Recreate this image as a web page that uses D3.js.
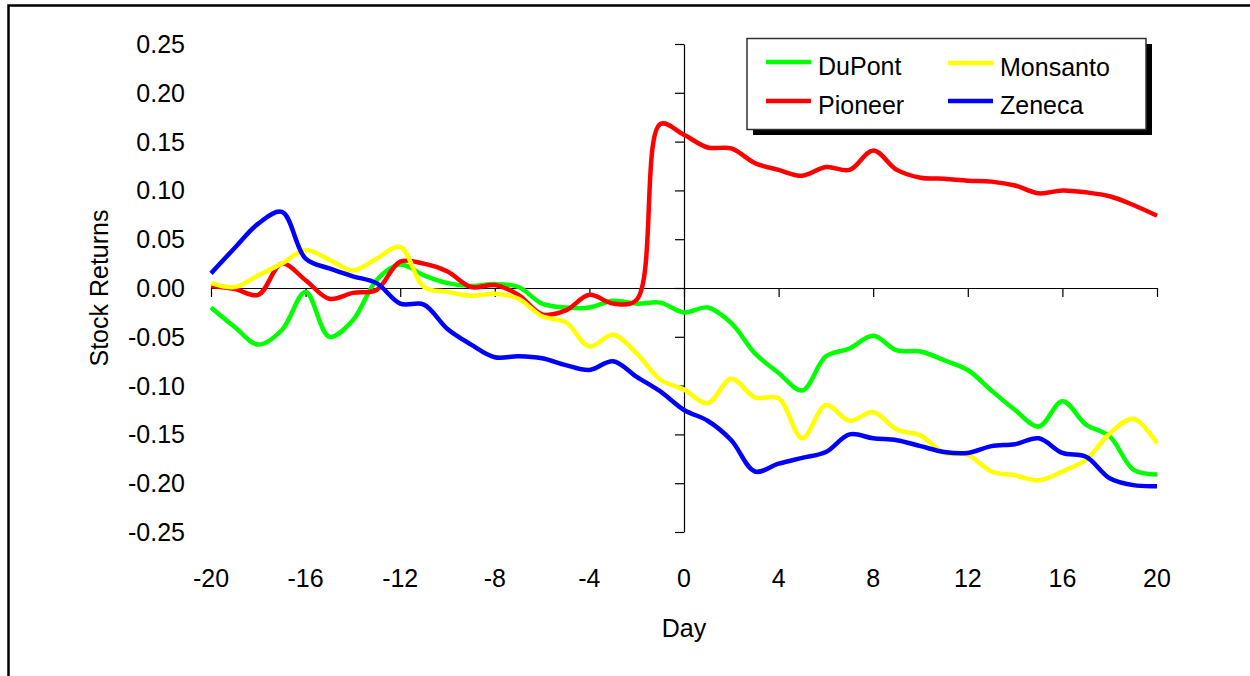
<!DOCTYPE html>
<html>
<head>
<meta charset="utf-8">
<script src="https://cdn.jsdelivr.net/npm/d3@7"></script>
<style>
  body { margin: 0; background: #fff; }
  text { font-family: "Liberation Sans", Arial, sans-serif; fill: #000; }
</style>
</head>
<body>
<div id="chart"></div>
<script>
// days -20 .. 20
const days = d3.range(-20, 21);

const dupont = [-0.020, -0.040, -0.058, -0.043, -0.004, -0.050, -0.033, 0.008, 0.024, 0.013,
  0.005, 0.002, 0.004, 0.001, -0.016, -0.020, -0.020, -0.013, -0.016, -0.015,
  -0.025, -0.020, -0.036, -0.067, -0.087, -0.105, -0.070, -0.062, -0.049, -0.064,
  -0.065, -0.074, -0.084, -0.105, -0.125, -0.142, -0.116, -0.140, -0.152, -0.186, -0.191];

const pioneer = [0.002, -0.001, -0.007, 0.025, 0.008, -0.011, -0.005, -0.002, 0.027, 0.025,
  0.017, 0.001, 0.003, -0.007, -0.027, -0.023, -0.007, -0.016, -0.012, 0.168,
  0.157, 0.144, 0.143, 0.128, 0.121, 0.115, 0.124, 0.121, 0.141, 0.121,
  0.113, 0.112, 0.110, 0.109, 0.105, 0.097, 0.100, 0.098, 0.094, 0.085, 0.074];

const monsanto = [0.005, 0.001, 0.013, 0.025, 0.039, 0.029, 0.018, 0.030, 0.042, 0.001,
  -0.004, -0.008, -0.006, -0.011, -0.029, -0.035, -0.060, -0.048, -0.067, -0.094,
  -0.104, -0.118, -0.093, -0.112, -0.113, -0.154, -0.120, -0.136, -0.127, -0.145,
  -0.151, -0.169, -0.171, -0.188, -0.192, -0.197, -0.188, -0.176, -0.149, -0.134, -0.159];

const zeneca = [0.015, 0.041, 0.066, 0.078, 0.030, 0.020, 0.012, 0.005, -0.016, -0.017,
  -0.042, -0.058, -0.071, -0.070, -0.072, -0.079, -0.084, -0.075, -0.091, -0.106,
  -0.125, -0.136, -0.156, -0.188, -0.180, -0.174, -0.168, -0.150, -0.154, -0.156,
  -0.162, -0.168, -0.169, -0.162, -0.160, -0.154, -0.169, -0.173, -0.195, -0.202, -0.203];

const xTicks = [-20, -16, -12, -8, -4, 0, 4, 8, 12, 16, 20];
const yTicks = [0.25, 0.20, 0.15, 0.10, 0.05, 0.00, -0.05, -0.10, -0.15, -0.20, -0.25];

const series = [
  {name: "DuPont", values: dupont, color: "#00ff00"},
  {name: "Pioneer", values: pioneer, color: "#ff0000"},
  {name: "Monsanto", values: monsanto, color: "#ffff00"},
  {name: "Zeneca", values: zeneca, color: "#0000ff"}
];

const width = 1250, height = 676;

const svg = d3.select("#chart")
  .append("svg")
  .attr("width", width)
  .attr("height", height);

// outer frame (runs off the right/bottom edges)
svg.append("rect")
  .attr("x", 8.5).attr("y", 5.5)
  .attr("width", 1260).attr("height", 700)
  .attr("fill", "none")
  .attr("stroke", "#000")
  .attr("stroke-width", 2.5);

const x = d3.scaleLinear().domain([-20, 20]).range([211, 1157]);
const y = d3.scaleLinear().domain([-0.25, 0.25]).range([532, 44]);

// y axis sits at day 0
svg.append("g")
  .attr("transform", `translate(${x(0)},0)`)
  .call(d3.axisLeft(y).tickValues(yTicks).tickSize(9).tickSizeOuter(0).tickFormat(""))
  .call(g => g.selectAll("line, path").attr("stroke", "#000").attr("stroke-width", 1.2));

// x axis sits at 0 return
svg.append("g")
  .attr("transform", `translate(0,${y(0)})`)
  .call(d3.axisBottom(x).tickValues(xTicks).tickSize(9).tickSizeOuter(0).tickFormat(""))
  .call(g => g.selectAll("line, path").attr("stroke", "#000").attr("stroke-width", 1.2));

// tick labels on the left and bottom (plain hyphen for negatives)
const fmt = d => d3.format(".2f")(d).replace("\u2212", "-");

svg.append("g").selectAll("text")
  .data(yTicks)
  .enter().append("text")
  .attr("x", 185)
  .attr("y", d => y(d) + 9)
  .attr("text-anchor", "end")
  .style("font-size", "25px")
  .text(fmt);

svg.append("g").selectAll("text")
  .data(xTicks)
  .enter().append("text")
  .attr("x", d => x(d))
  .attr("y", 587)
  .attr("text-anchor", "middle")
  .style("font-size", "25px")
  .text(d => d);

// axis titles
svg.append("text")
  .attr("x", x(0))
  .attr("y", 637)
  .attr("text-anchor", "middle")
  .style("font-size", "25px")
  .text("Day");

svg.append("text")
  .attr("text-anchor", "middle")
  .attr("transform", `translate(108,${y(0)})rotate(-90)`)
  .style("font-size", "25px")
  .text("Stock Returns");

// lines
const line = d3.line()
  .x((d, i) => x(days[i]))
  .y(d => y(d))
  .curve(d3.curveCatmullRom.alpha(0.5));

svg.append("g").selectAll("path")
  .data(series)
  .enter().append("path")
  .attr("d", d => line(d.values))
  .attr("fill", "none")
  .attr("stroke", d => d.color)
  .attr("stroke-width", 4.5)
  .attr("stroke-linejoin", "round");

// legend
const lg = svg.append("g");
lg.append("rect")
  .attr("x", 753).attr("y", 44)
  .attr("width", 399).attr("height", 91)
  .attr("fill", "#000");
lg.append("rect")
  .attr("x", 747).attr("y", 38.5)
  .attr("width", 399).attr("height", 91)
  .attr("fill", "#fff")
  .attr("stroke", "#333")
  .attr("stroke-width", 1.5);

const legendPos = [
  {lx: 766, ly: 62},
  {lx: 766, ly: 101},
  {lx: 948, ly: 63},
  {lx: 948, ly: 101}
];

series.forEach((s, i) => {
  const p = legendPos[i];
  lg.append("line")
    .attr("x1", p.lx).attr("x2", p.lx + 45)
    .attr("y1", p.ly).attr("y2", p.ly)
    .attr("stroke", s.color)
    .attr("stroke-width", 4.5);
  lg.append("text")
    .attr("x", p.lx + 52)
    .attr("y", p.ly + 13)
    .style("font-size", "25px")
    .text(s.name);
});
</script>
</body>
</html>
